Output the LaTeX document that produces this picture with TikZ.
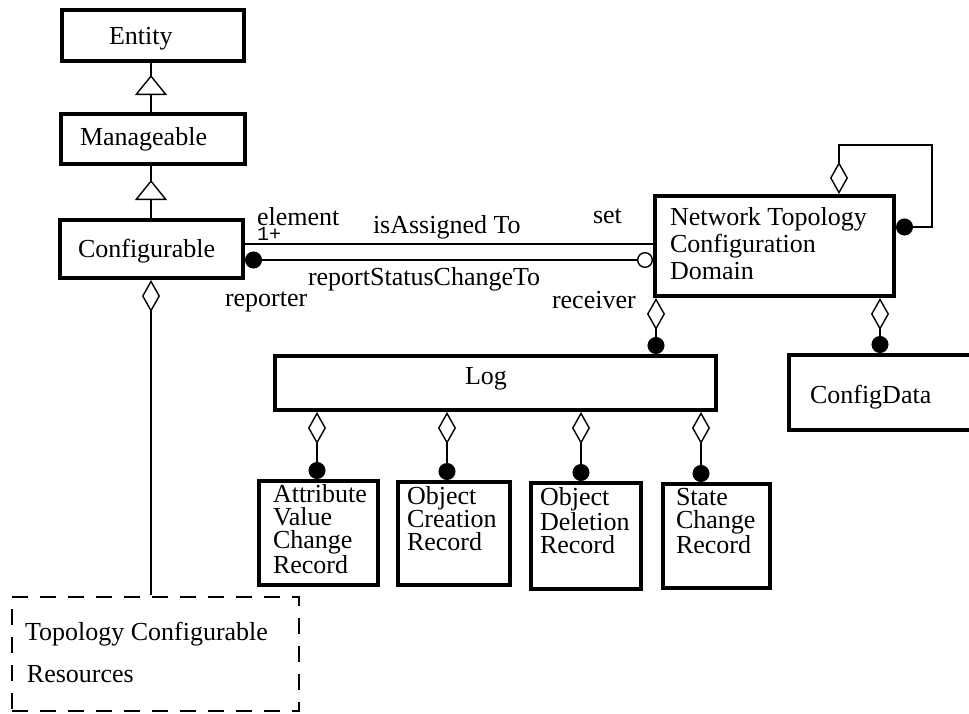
\documentclass[tikz,border=0pt]{standalone}
\usepackage{fontspec}
\setmainfont{Liberation Serif}
\newfontfamily\multfont{Liberation Mono}
\usetikzlibrary{arrows.meta}
\begin{document}
\begin{tikzpicture}[x=1pt,y=-1pt,
  cls/.style={draw, line width=4pt, inner sep=0pt, outer sep=0pt, anchor=north west},
  txt/.style={anchor=base west, inner sep=0pt, outer sep=0pt, align=left,
              font=\fontsize{26}{27}\selectfont},
  rectxt/.style={txt, font=\fontsize{26}{23}\selectfont},
  link/.style={line width=1.4pt, shorten <=2pt, shorten >=2pt},
  agg/.style={link, {Diamond[open,length=32pt,width=18pt]}-{Circle[length=17pt]}},
  isa/.style={line width=1.4pt, -{Triangle[open,fill=white,length=20pt,width=32pt]}}
]
\useasboundingbox (0,0) rectangle (969,713);
\clip (0,0) rectangle (969,713);
\fill[white] (0,0) rectangle (969,713);

% classes
\node[cls, minimum width=182pt, minimum height=51pt]  (entity) at (62,10) {};
\node[cls, minimum width=184pt, minimum height=50pt]  (manage) at (61,114) {};
\node[cls, minimum width=183pt, minimum height=58pt]  (config) at (60,220) {};
\node[cls, minimum width=239pt, minimum height=100pt] (ntcd)   at (655,196) {};
\node[cls, minimum width=200pt, minimum height=75pt]  (cdata)  at (789,355) {};
\node[cls, minimum width=441pt, minimum height=54pt]  (log)    at (275,356) {};
\node[cls, minimum width=119pt, minimum height=104pt] (rec1)   at (259,481) {};
\node[cls, minimum width=112pt, minimum height=103pt] (rec2)   at (398,482) {};
\node[cls, minimum width=110pt, minimum height=106pt] (rec3)   at (531,483) {};
\node[cls, minimum width=107pt, minimum height=104pt] (rec4)   at (663,484) {};
\node[draw, line width=1.4pt, dash pattern=on 16pt off 12pt, inner sep=0pt, outer sep=0pt,
      anchor=north west, minimum width=287pt, minimum height=114pt] (tcr) at (12,597) {};

% class names (multi-line texts are placed by the baseline of their last line)
\node[txt] (entityl) at (109,44)  {Entity};
\node[txt] (managel) at (80,145)  {Manageable};
\node[txt] (configl) at (78,257)  {Configurable};
\node[txt] (ntcdl)   at (670,279) {Network Topology\\Configuration\\Domain};
\node[txt] (cdatal)  at (810,403) {ConfigData};
\node[txt] (logl)    at (465,384) {Log};
\node[rectxt] (rec1l) at (273,573) {Attribute\\Value\\Change\\Record};
\node[rectxt] (rec2l) at (407,550) {Object\\Creation\\Record};
\node[rectxt] (rec3l) at (540,553) {Object\\Deletion\\Record};
\node[rectxt] (rec4l) at (676,553) {State\\Change\\Record};
\node[txt] (tcrl1) at (25,640) {Topology Configurable};
\node[txt] (tcrl2) at (27,682) {Resources};

% inheritance
\draw[line width=1.4pt] (entity.south -| 151,0) -- (manage.north -| 151,0);
\draw[isa] (manage.north -| 151,0) -- ++(0,-39);
\draw[line width=1.4pt] (manage.south -| 151,0) -- (config.north -| 151,0);
\draw[isa] (config.north -| 151,0) -- ++(0,-40);

% aggregation of the resources
\draw[link, {Diamond[open,length=32pt,width=18pt]}-] (config.south -| 151,0) -- (tcr.north -| 151,0);

% associations with the domain
\draw[link] (config.east |- 0,244) -- (ntcd.west |- 0,244);
\draw[link, {Circle[length=17pt]}-{Circle[open,length=16pt]}] (config.east |- 0,260) -- (ntcd.west |- 0,260);
\node[txt] (elem)  at (257,225) {element};
\node[txt, font=\multfont\fontsize{20}{20}\selectfont] (mult) at (257,240) {1+};
\node[txt] (assig) at (373,233) {isAssigned To};
\node[txt] (setl)  at (593,223) {set};
\node[txt] (rsct)  at (308,285) {reportStatusChangeTo};
\node[txt] (repo)  at (225,306) {reporter};
\node[txt] (recv)  at (552,308) {receiver};

% domain parts
\draw[agg] (ntcd.north -| 839,0) -- ++(0,-51) -| (932,227) -- (ntcd.east |- 0,227);
\draw[agg] (ntcd.south -| 656,0) -- (log.north -| 656,0);
\draw[agg] (ntcd.south -| 880,0) -- (cdata.north -| 880,0);

% log records
\foreach \x/\r in {317/rec1, 447/rec2, 581/rec3, 701/rec4}
  \draw[agg] (log.south -| \x,0) -- (\r.north -| \x,0);
\end{tikzpicture}
\end{document}
